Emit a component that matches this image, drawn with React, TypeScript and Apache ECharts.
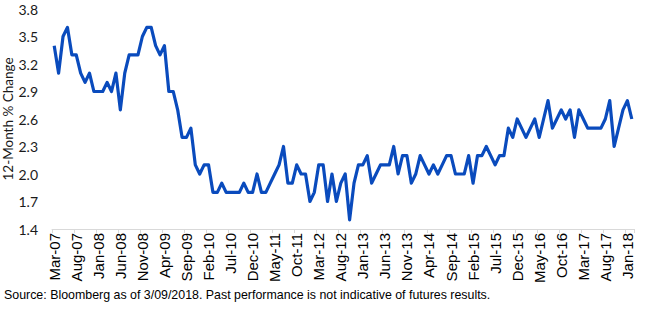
import React, { useEffect, useRef } from "react";
import * as echarts from "echarts";

// Monthly observations, Mar-07 through Feb-18
const months: string[] = [
  "Mar-07", "Apr-07", "May-07", "Jun-07", "Jul-07", "Aug-07", "Sep-07", "Oct-07", "Nov-07", "Dec-07",
  "Jan-08", "Feb-08", "Mar-08", "Apr-08", "May-08", "Jun-08", "Jul-08", "Aug-08", "Sep-08", "Oct-08", "Nov-08", "Dec-08",
  "Jan-09", "Feb-09", "Mar-09", "Apr-09", "May-09", "Jun-09", "Jul-09", "Aug-09", "Sep-09", "Oct-09", "Nov-09", "Dec-09",
  "Jan-10", "Feb-10", "Mar-10", "Apr-10", "May-10", "Jun-10", "Jul-10", "Aug-10", "Sep-10", "Oct-10", "Nov-10", "Dec-10",
  "Jan-11", "Feb-11", "Mar-11", "Apr-11", "May-11", "Jun-11", "Jul-11", "Aug-11", "Sep-11", "Oct-11", "Nov-11", "Dec-11",
  "Jan-12", "Feb-12", "Mar-12", "Apr-12", "May-12", "Jun-12", "Jul-12", "Aug-12", "Sep-12", "Oct-12", "Nov-12", "Dec-12",
  "Jan-13", "Feb-13", "Mar-13", "Apr-13", "May-13", "Jun-13", "Jul-13", "Aug-13", "Sep-13", "Oct-13", "Nov-13", "Dec-13",
  "Jan-14", "Feb-14", "Mar-14", "Apr-14", "May-14", "Jun-14", "Jul-14", "Aug-14", "Sep-14", "Oct-14", "Nov-14", "Dec-14",
  "Jan-15", "Feb-15", "Mar-15", "Apr-15", "May-15", "Jun-15", "Jul-15", "Aug-15", "Sep-15", "Oct-15", "Nov-15", "Dec-15",
  "Jan-16", "Feb-16", "Mar-16", "Apr-16", "May-16", "Jun-16", "Jul-16", "Aug-16", "Sep-16", "Oct-16", "Nov-16", "Dec-16",
  "Jan-17", "Feb-17", "Mar-17", "Apr-17", "May-17", "Jun-17", "Jul-17", "Aug-17", "Sep-17", "Oct-17", "Nov-17", "Dec-17",
  "Jan-18", "Feb-18",
];

// 12-month % change
const values2007: number[] = [3.4, 3.1, 3.5, 3.6, 3.3, 3.3, 3.1, 3.0, 3.1, 2.9];
const values2008: number[] = [2.9, 2.9, 3.0, 2.9, 3.1, 2.7, 3.1, 3.3, 3.3, 3.3, 3.5, 3.6];
const values2009: number[] = [3.6, 3.4, 3.3, 3.4, 2.9, 2.9, 2.7, 2.4, 2.4, 2.5, 2.1, 2.0];
const values2010: number[] = [2.1, 2.1, 1.8, 1.8, 1.9, 1.8, 1.8, 1.8, 1.8, 1.9, 1.8, 1.8];
const values2011: number[] = [2.0, 1.8, 1.8, 1.9, 2.0, 2.1, 2.3, 1.9, 1.9, 2.1, 2.0, 2.0];
const values2012: number[] = [1.7, 1.8, 2.1, 2.1, 1.7, 2.0, 1.7, 1.9, 2.0, 1.5, 1.9, 2.1];
const values2013: number[] = [2.1, 2.2, 1.9, 2.0, 2.1, 2.1, 2.1, 2.3, 2.0, 2.2, 2.2, 1.9];
const values2014: number[] = [2.0, 2.2, 2.1, 2.0, 2.1, 2.0, 2.1, 2.2, 2.2, 2.0, 2.0, 2.0];
const values2015: number[] = [2.2, 1.9, 2.2, 2.2, 2.3, 2.2, 2.1, 2.2, 2.2, 2.5, 2.4, 2.6];
const values2016: number[] = [2.5, 2.4, 2.5, 2.6, 2.4, 2.6, 2.8, 2.5, 2.6, 2.7, 2.6, 2.7];
const values2017: number[] = [2.4, 2.7, 2.6, 2.5, 2.5, 2.5, 2.5, 2.6, 2.8, 2.3, 2.5, 2.7];
const values2018: number[] = [2.8, 2.6];

const yTicks = { min: 1.4, max: 3.8, step: 0.3 };

const sourceNote =
  "Source: Bloomberg as of 3/09/2018. Past performance is not indicative of futures results.";

const ARIAL = "Liberation Sans, Arial, sans-serif";
const HUMANIST = "Lato, 'Open Sans', sans-serif";

export default function App() {
  const ref = useRef<HTMLDivElement>(null);

  useEffect(() => {
    if (!ref.current) return;
    const chart = echarts.init(ref.current, undefined, { renderer: "svg" });
    const series = [
      ...values2007, ...values2008, ...values2009, ...values2010, ...values2011, ...values2012,
      ...values2013, ...values2014, ...values2015, ...values2016, ...values2017, ...values2018,
    ];

    chart.setOption({
      animation: false,
      backgroundColor: "#ffffff",
      textStyle: { fontFamily: ARIAL },
      grid: { left: 52, right: 13, top: 9, bottom: 83, containLabel: false, outerBoundsMode: "none" },
      xAxis: {
        type: "category",
        data: months,
        boundaryGap: true,
        axisLine: { show: true, lineStyle: { color: "#d9d9d9", width: 1 } },
        axisTick: { show: true, interval: 4, length: 4, lineStyle: { color: "#d9d9d9" } },
        axisLabel: {
          interval: 4,
          rotate: 90,
          margin: 4,
          fontSize: 15,
          color: "#000000",
          fontFamily: ARIAL,
        },
        splitLine: { show: false },
      },
      yAxis: {
        type: "value",
        min: yTicks.min,
        max: yTicks.max,
        interval: yTicks.step,
        name: "12-Month % Change",
        nameLocation: "middle",
        nameGap: 37,
        nameMoveOverlap: false,
        nameTextStyle: { fontSize: 13.5, color: "#1a1a1a", fontFamily: HUMANIST },
        axisLine: { show: false },
        axisTick: { show: false },
        splitLine: { show: false },
        axisLabel: {
          margin: 14,
          fontSize: 14,
          color: "#1a1a1a",
          fontFamily: HUMANIST,
          formatter: (v: number) => v.toFixed(1),
        },
      },
      series: [
        {
          type: "line",
          data: series,
          showSymbol: false,
          symbol: "none",
          lineStyle: { color: "#0a4bbd", width: 3.2, join: "round" },
        },
      ],
      graphic: [
        {
          type: "text",
          left: 4,
          top: 289,
          style: {
            text: sourceNote,
            fontSize: 12.4,
            fill: "#000000",
            fontFamily: ARIAL,
          },
        },
      ],
    });

    return () => chart.dispose();
  }, []);

  return (
    <div
      ref={ref}
      style={{ position: "fixed", left: 0, top: 0, width: 647, height: 312 }}
    />
  );
}
